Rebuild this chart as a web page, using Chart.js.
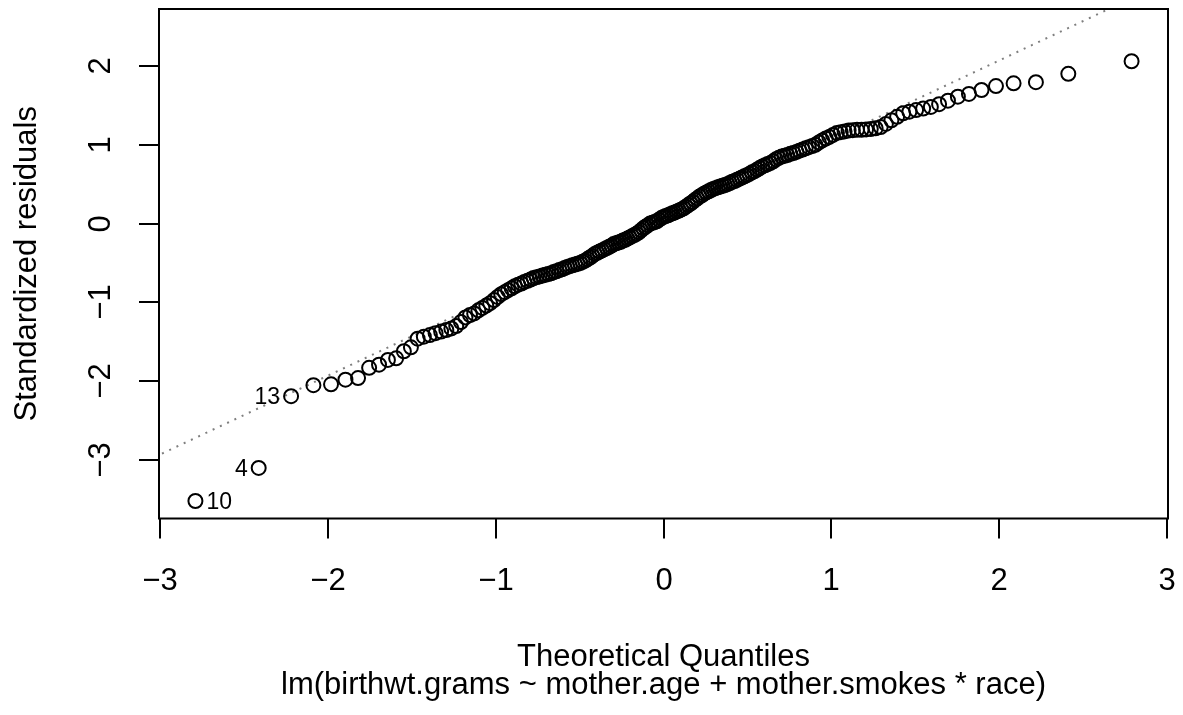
<!DOCTYPE html>
<html>
<head>
<meta charset="utf-8">
<script src="https://cdn.jsdelivr.net/npm/chart.js@4.4.1/dist/chart.umd.min.js"></script>
<style>
  html, body { margin: 0; padding: 0; background: #fff; }
  #wrap { width: 1183px; height: 715px; }
</style>
</head>
<body>
<div id="wrap"><canvas id="qq"></canvas></div>
<script>
// theoretical normal quantiles, one per observation (n = 189)
const theoQ = [
  -2.789, -2.412, -2.219, -2.086, -1.981, -1.895, -1.820, -1.754, -1.695, -1.642,
  -1.593, -1.547, -1.505, -1.465, -1.428, -1.392, -1.358, -1.325, -1.294, -1.264,
  -1.235, -1.207, -1.180, -1.153, -1.128, -1.103, -1.079, -1.056, -1.033, -1.010,
  -0.988, -0.967, -0.946, -0.926, -0.905, -0.886, -0.866, -0.847, -0.829, -0.810,
  -0.792, -0.774, -0.756, -0.738, -0.721, -0.704, -0.687, -0.670, -0.654, -0.638,
  -0.621, -0.605, -0.589, -0.573, -0.558, -0.543, -0.527, -0.512, -0.497, -0.482,
  -0.467, -0.453, -0.438, -0.424, -0.409, -0.395, -0.381, -0.366, -0.352, -0.338,
  -0.324, -0.310, -0.297, -0.283, -0.269, -0.255, -0.242, -0.228, -0.215, -0.201,
  -0.188, -0.174, -0.161, -0.147, -0.134, -0.120, -0.107, -0.093, -0.080, -0.066,
  -0.053, -0.040, -0.027, -0.013, 0.000,
  0.013, 0.027, 0.040, 0.053, 0.066, 0.080, 0.093, 0.107, 0.120, 0.134,
  0.147, 0.161, 0.174, 0.188, 0.201, 0.215, 0.228, 0.242, 0.255, 0.269,
  0.283, 0.297, 0.310, 0.324, 0.338, 0.352, 0.366, 0.381, 0.395, 0.409,
  0.424, 0.438, 0.453, 0.467, 0.482, 0.497, 0.512, 0.527, 0.543, 0.558,
  0.573, 0.589, 0.605, 0.621, 0.638, 0.654, 0.670, 0.687, 0.704, 0.721,
  0.738, 0.756, 0.774, 0.792, 0.810, 0.829, 0.847, 0.866, 0.886, 0.905,
  0.926, 0.946, 0.967, 0.988, 1.010, 1.033, 1.056, 1.079, 1.103, 1.128,
  1.153, 1.180, 1.207, 1.235, 1.264, 1.294, 1.325, 1.358, 1.392, 1.428,
  1.465, 1.505, 1.547, 1.593, 1.642, 1.695, 1.754, 1.820, 1.895, 1.981,
  2.086, 2.219, 2.412, 2.789
];

// sorted standardized residuals
const stdResid = [
  -3.52, -3.10, -2.19, -2.05, -2.04, -1.98, -1.96, -1.83, -1.79, -1.73,
  -1.71, -1.62, -1.57, -1.46, -1.435, -1.415, -1.39, -1.37, -1.35, -1.33,
  -1.30, -1.25, -1.19, -1.16, -1.14, -1.10, -1.07, -1.04, -1.01, -0.97,
  -0.93, -0.895, -0.87, -0.845, -0.82, -0.795, -0.775, -0.76, -0.74, -0.725,
  -0.71, -0.69, -0.68, -0.67, -0.66, -0.65, -0.64, -0.63, -0.615, -0.605,
  -0.59, -0.58, -0.565, -0.55, -0.54, -0.53, -0.52, -0.51, -0.50, -0.485,
  -0.47, -0.45, -0.43, -0.41, -0.385, -0.37, -0.355, -0.34, -0.325, -0.31,
  -0.295, -0.28, -0.26, -0.25, -0.24, -0.23, -0.215, -0.205, -0.19, -0.175,
  -0.16, -0.145, -0.13, -0.11, -0.085, -0.06, -0.04, -0.02, 0.00, 0.01,
  0.02, 0.03, 0.05, 0.07, 0.085, 0.095, 0.105, 0.12, 0.13, 0.14,
  0.155, 0.165, 0.18, 0.195, 0.215, 0.235, 0.255, 0.275, 0.30, 0.32,
  0.345, 0.36, 0.38, 0.395, 0.41, 0.425, 0.44, 0.45, 0.46, 0.47,
  0.48, 0.49, 0.50, 0.515, 0.53, 0.54, 0.555, 0.57, 0.585, 0.60,
  0.615, 0.63, 0.65, 0.665, 0.685, 0.705, 0.725, 0.74, 0.755, 0.77,
  0.79, 0.815, 0.835, 0.85, 0.86, 0.87, 0.885, 0.895, 0.91, 0.925,
  0.94, 0.955, 0.97, 0.985, 1.00, 1.03, 1.055, 1.08, 1.10, 1.125,
  1.15, 1.16, 1.17, 1.18, 1.185, 1.19, 1.19, 1.195, 1.20, 1.21,
  1.225, 1.265, 1.31, 1.355, 1.40, 1.42, 1.44, 1.46, 1.48, 1.515,
  1.56, 1.61, 1.645, 1.695, 1.745, 1.78, 1.795, 1.90, 2.06
];

// reference line through the quartiles
const qqIntercept = 0.07;
const qqSlope = 1.0;

// the three most extreme observations, labelled by row number
const idLabels = ['10', '4', '13'];
const idRank = [0, 1, 2];
const idSide = ['right', 'left', 'left'];

const xTicks = [-3, -2, -1, 0, 1, 2, 3];
const yTicks = [-3, -2, -1, 0, 1, 2];
const xTitle = 'Theoretical Quantiles';
const yTitle = 'Standardized residuals';
const subTitle = 'lm(birthwt.grams ~ mother.age + mother.smokes * race)';

const FONT = '"Liberation Sans", Arial, Helvetica, sans-serif';
const xMin = -3.006, xMax = 3.006;
const yMin = -3.742, yMax = 2.723;

const fmt = v => (v < 0 ? '\u2212' + Math.abs(v) : String(v));

const points = theoQ.map((x, i) => ({ x: x, y: stdResid[i] }));
const lineX = [xMin - 0.5, xMax + 0.5];
const qqLine = lineX.map(x => ({ x: x, y: qqIntercept + qqSlope * x }));

// base-graphics style frame, ticks and titles
const rAxes = {
  id: 'rAxes',
  afterDraw(chart) {
    const ctx = chart.ctx;
    const a = chart.chartArea;
    const xs = chart.scales.x, ys = chart.scales.y;
    ctx.save();
    ctx.strokeStyle = '#000';
    ctx.fillStyle = '#000';
    ctx.lineWidth = 2;
    ctx.strokeRect(a.left, a.top, a.right - a.left, a.bottom - a.top);

    ctx.font = '31px ' + FONT;
    ctx.textAlign = 'center';
    ctx.textBaseline = 'alphabetic';
    xTicks.forEach(v => {
      const px = Math.round(xs.getPixelForValue(v));
      ctx.beginPath();
      ctx.moveTo(px, a.bottom);
      ctx.lineTo(px, a.bottom + 20);
      ctx.stroke();
      ctx.fillText(fmt(v), px, 590);
    });
    yTicks.forEach(v => {
      const py = Math.round(ys.getPixelForValue(v));
      ctx.beginPath();
      ctx.moveTo(a.left - 20, py);
      ctx.lineTo(a.left, py);
      ctx.stroke();
      ctx.save();
      ctx.translate(110, py);
      ctx.rotate(-Math.PI / 2);
      ctx.fillText(fmt(v), 0, 0);
      ctx.restore();
    });

    const cx = (a.left + a.right) / 2;
    ctx.fillText(xTitle, cx, 666);
    ctx.fillText(subTitle, cx, 694);
    ctx.save();
    ctx.translate(36, (a.top + a.bottom) / 2);
    ctx.rotate(-Math.PI / 2);
    ctx.fillText(yTitle, 0, 0);
    ctx.restore();

    // point id labels
    ctx.font = '23px ' + FONT;
    idRank.forEach((r, k) => {
      const px = xs.getPixelForValue(theoQ[r]);
      const py = ys.getPixelForValue(stdResid[r]);
      const right = idSide[k] === 'right';
      ctx.textAlign = right ? 'left' : 'right';
      ctx.fillText(idLabels[k], px + (right ? 11 : -11), py + 8);
    });
    ctx.restore();
  }
};

new Chart(document.getElementById('qq'), {
  type: 'scatter',
  data: {
    datasets: [
      {
        type: 'line',
        data: qqLine,
        borderColor: '#7f7f7f',
        borderWidth: 2,
        borderDash: [2, 6],
        borderCapStyle: 'butt',
        pointRadius: 0,
        fill: false,
        clip: 0,
        order: 2
      },
      {
        data: points,
        pointStyle: 'circle',
        pointRadius: 7,
        pointBorderWidth: 2,
        pointBorderColor: '#000',
        pointBackgroundColor: 'rgba(0,0,0,0)',
        order: 1
      }
    ]
  },
  options: {
    responsive: true,
    maintainAspectRatio: false,
    animation: false,
    devicePixelRatio: 1,
    layout: { padding: { left: 159, right: 15, top: 9, bottom: 196.5 } },
    plugins: { legend: { display: false }, tooltip: { enabled: false } },
    scales: {
      x: { type: 'linear', min: xMin, max: xMax, display: false },
      y: { type: 'linear', min: yMin, max: yMax, display: false }
    }
  },
  plugins: [rAxes]
});
</script>
</body>
</html>
